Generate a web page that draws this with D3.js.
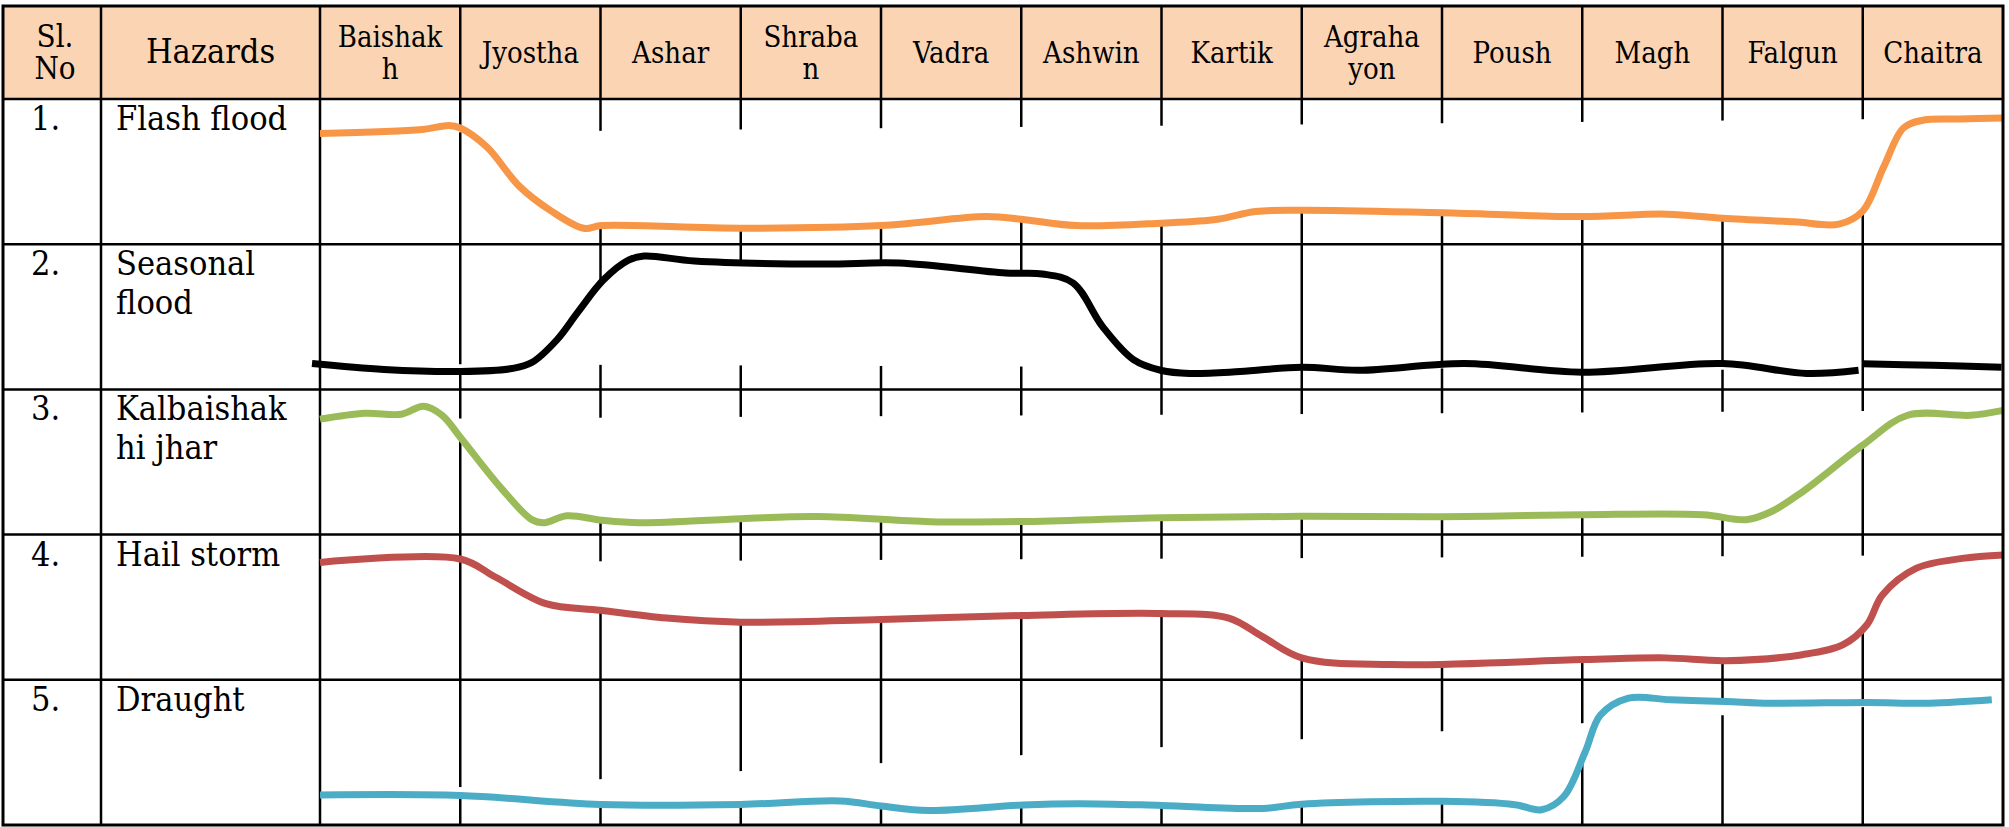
<!DOCTYPE html>
<html>
<head>
<meta charset="utf-8">
<script src="https://cdn.jsdelivr.net/npm/d3@7/dist/d3.min.js"></script>
<style>
  html, body { margin: 0; padding: 0; background: #fff; }
  svg text {
    font-family: "DejaVu Serif Condensed", "DejaVu Serif", serif;
    font-stretch: condensed;
    fill: #000;
  }
</style>
</head>
<body>
<div id="chart"></div>
<script>
// 表头
const headerSl = ['Sl.', 'No'];
const headerHazard = ['Hazards'];
const months = [
  ['Baishak', 'h'], ['Jyostha'], ['Ashar'], ['Shraba', 'n'], ['Vadra'], ['Ashwin'],
  ['Kartik'], ['Agraha', 'yon'], ['Poush'], ['Magh'], ['Falgun'], ['Chaitra']
];

// 行标签
const serials = ['1.', '2.', '3.', '4.', '5.'];
const hazards = [['Flash flood'], ['Seasonal', 'flood'], ['Kalbaishak', 'hi jhar'], ['Hail storm'], ['Draught']];
const colors = ['#F79646', '#000000', '#9BBB59', '#C0504D', '#4BACC6'];

// 曲线数据: [月份位置, 强度 0-100]
const flashFlood = [
  [0, 76.3], [0.73, 79], [0.92, 81.7], [1.0, 80], [1.19, 66.9], [1.42, 40], [1.65, 22.8],
  [1.88, 11], [2.01, 12.8], [3.0, 11], [4.0, 12.8], [4.75, 19], [5.0, 17.2], [5.39, 12.8],
  [6.0, 14.5], [6.4, 17.2], [6.67, 22.5], [7.0, 23.4], [8.0, 21.6], [9.0, 19], [9.6, 20.7],
  [10.0, 17.9], [10.51, 15.4], [10.83, 13.8], [11.0, 22.8], [11.15, 53.4], [11.29, 80],
  [11.42, 85.2], [11.69, 86.2], [12, 86.9]
];
const seasonalFlood = [
  [-0.057, 17.8], [0.456, 13.7], [1.005, 12.3], [1.37, 14.4], [1.51, 18.5], [1.69, 34.2],
  [1.84, 53.4], [2.02, 75.3], [2.2, 89], [2.31, 91.8], [2.67, 88.4], [3.59, 86.3], [4.13, 87],
  [4.89, 80.1], [5.15, 79.5], [5.37, 73.3], [5.58, 43.2], [5.8, 20.5], [6.0, 13], [6.2, 11],
  [6.56, 12.3], [7.0, 15.3], [7.41, 13.2], [8.16, 17.8], [9.0, 11.8], [10.0, 17.8],
  [10.6, 11], [10.97, 13.2]
];
const seasonalFloodChaitra = [[11.0, 17.6], [11.5, 16.6], [11.99, 15.3]];
const kalbaishakhi = [
  [0, 79.5], [0.32, 83.6], [0.58, 82.9], [0.74, 88.4], [0.87, 82.2], [1.0, 67.1], [1.29, 32.2],
  [1.51, 10.3], [1.6, 8.2], [1.76, 13], [2.01, 9.9], [2.28, 8.2], [3.0, 11], [3.55, 12.5],
  [4.35, 8.9], [5.0, 9], [6.0, 11.6], [7.0, 12.6], [8.0, 12.3], [9.0, 13.7], [9.86, 13.7],
  [10.17, 10.3], [10.35, 15.9], [10.57, 29.5], [11.0, 61.6], [11.32, 82.2], [11.77, 82.2],
  [12, 85.6]
];
const hailStorm = [
  [0, 80.8], [1.0, 83.2], [1.25, 70.8], [1.61, 52.5], [2.0, 47.9], [2.47, 42.5], [3.0, 39.7],
  [4.0, 41.5], [5.0, 44.3], [6.0, 45.7], [6.48, 42.5], [6.72, 29.7], [7.0, 15.1], [7.64, 10.5],
  [9.01, 13.9], [9.59, 15.1], [10.02, 13.2], [10.57, 17.3], [10.86, 24.2], [11.03, 37.9],
  [11.14, 58.4], [11.38, 76.7], [11.71, 83.6], [12, 86]
];
const draught = [
  [0, 20.6], [1.0, 20.3], [2.0, 14.2], [3.0, 14.2], [3.71, 16.6], [4.0, 13.1], [4.34, 10],
  [5.01, 13.8], [5.41, 14.7], [6.0, 13.5], [6.72, 11.4], [7.0, 14.3], [8.01, 16.3], [8.52, 14],
  [8.71, 10.5], [8.87, 19.8], [9.02, 50.1], [9.13, 75.7], [9.33, 87.4], [9.63, 86.2],
  [10.02, 85.1], [10.34, 83.9], [11.03, 84.4], [11.48, 83.9], [11.92, 86.2]
];
const series = [[flashFlood], [seasonalFlood, seasonalFloodChaitra], [kalbaishakhi], [hailStorm], [draught]];

const W = 2009, H = 827;
const tLeft = 3, tTop = 6, tRight = 2003, tBottom = 825;
const slRight = 101, hazRight = 320, headBottom = 99;

const svg = d3.select('#chart').append('svg')
  .attr('width', W).attr('height', H);

const x = d3.scaleLinear().domain([0, 12]).range([hazRight, tRight]);
const row = d3.scaleBand().domain(d3.range(serials.length)).range([headBottom, tBottom]);

// 表头底色
svg.append('rect')
  .attr('x', tLeft).attr('y', tTop)
  .attr('width', tRight - tLeft).attr('height', headBottom - tTop)
  .attr('fill', '#FBD4B4');

// 网格线
const grid = svg.append('g').attr('stroke', '#000').attr('stroke-width', 2.5);
const vx = [slRight, hazRight].concat(d3.range(1, 12).map(i => x(i)));
vx.forEach(v => {
  grid.append('line').attr('x1', v).attr('x2', v).attr('y1', tTop).attr('y2', tBottom);
});
d3.range(serials.length).forEach(i => {
  grid.append('line').attr('x1', tLeft).attr('x2', tRight)
    .attr('y1', row(i)).attr('y2', row(i));
});

// 曲线：先用白色填充遮住网格线，再描边
const line = d3.line().curve(d3.curveCatmullRom.alpha(0.5));
const fills = svg.append('g');
const strokes = svg.append('g');
series.forEach((segs, i) => {
  const y = d3.scaleLinear().domain([0, 100]).range([row(i) + row.bandwidth(), row(i)]);
  line.x(d => x(d[0])).y(d => y(d[1]));
  segs.forEach(seg => {
    fills.append('path').attr('d', line(seg) + 'Z')
      .attr('fill', '#fff').attr('stroke', 'none');
    strokes.append('path').attr('d', line(seg))
      .attr('fill', 'none')
      .attr('stroke', colors[i])
      .attr('stroke-width', 7)
      .attr('stroke-linecap', 'butt')
      .attr('stroke-linejoin', 'round');
  });
});

// 外框
svg.append('rect')
  .attr('x', tLeft).attr('y', tTop)
  .attr('width', tRight - tLeft).attr('height', tBottom - tTop)
  .attr('fill', 'none').attr('stroke', '#000').attr('stroke-width', 3);

// 文字
const fs = 34;
function headerText(lines, cx, size) {
  const t = svg.append('text').attr('text-anchor', 'middle').attr('font-size', size);
  const ys = lines.length === 1 ? [63] : [47, 79];
  lines.forEach((s, k) => t.append('tspan').attr('x', cx).attr('y', ys[k]).text(s));
}
headerText(headerSl, (tLeft + slRight) / 2 + 3, 31);
headerText(headerHazard, (slRight + hazRight) / 2, fs);
months.forEach((m, i) => headerText(m, x(i + 0.5), 29));

serials.forEach((s, i) => {
  svg.append('text').attr('x', 31).attr('y', row(i) + 31)
    .attr('font-size', fs).text(s);
  const t = svg.append('text').attr('font-size', fs);
  hazards[i].forEach((h, k) => {
    t.append('tspan').attr('x', 116).attr('y', row(i) + 31 + k * 39).text(h);
  });
});
</script>
</body>
</html>
